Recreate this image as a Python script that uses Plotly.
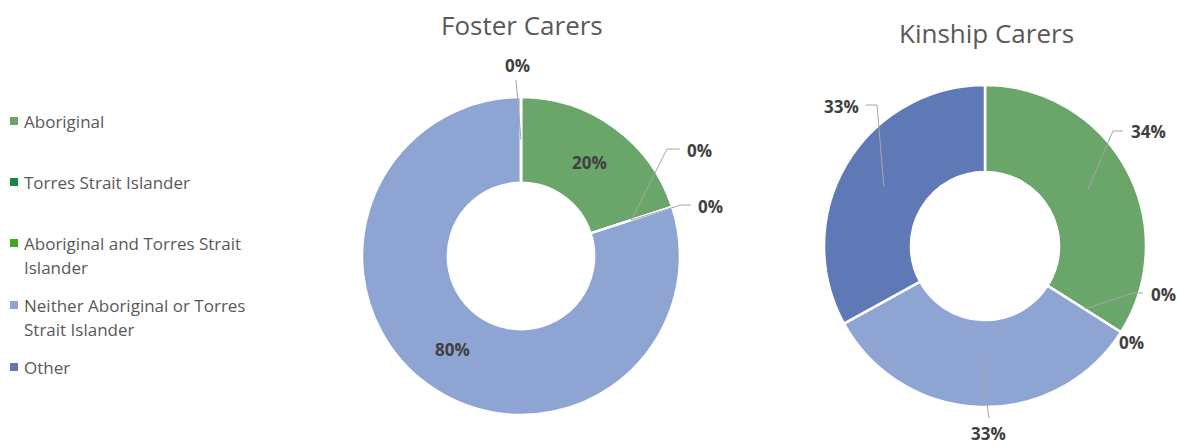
import math
import plotly.graph_objects as go

# ---------------- data ----------------
categories = ["Aboriginal", "Torres Strait Islander",
              "Aboriginal and Torres Strait Islander",
              "Neither Aboriginal or Torres Strait Islander", "Other"]
legend_lines = [["Aboriginal"], ["Torres Strait Islander"],
                ["Aboriginal and Torres Strait", "Islander"],
                ["Neither Aboriginal or Torres", "Strait Islander"], ["Other"]]
foster_pct = [20, 0, 0, 80, 0]
kinship_pct = [34, 0, 0, 33, 33]
chart_titles = ["Foster Carers", "Kinship Carers"]
colors = ["#6AA56A", "#138A44", "#3CAA1E", "#8EA5D4", "#5F79B6"]

# ---------------- layout geometry (pixels) ----------------
W, H = 1177, 446
FONT = "Open Sans"
TXT = "#595959"
LBL = "#404040"
LINE = "#A6A6A6"

pies = [
    dict(values=foster_pct, cx=521, cy=256, R=159, title_y=25,
         labels=[
             dict(kind="inside"),
             dict(kind="leader", end=(146, -107), tail=13, anchor="left", gap=5),
             dict(kind="leader", end=(160, -51), tail=10, anchor="left", gap=5),
             dict(kind="inside"),
             dict(kind="vert", end=(-5, -176), text_off=(-4, -190)),
         ]),
    dict(values=kinship_pct, cx=985, cy=246, R=161, title_y=33,
         labels=[
             dict(kind="leader", end=(128, -115), tail=10, anchor="left", gap=6),
             dict(kind="leader", end=(148, 47), tail=10, anchor="left", gap=6),
             dict(kind="free", text_off=(146, 96)),
             dict(kind="vert", end=(4, 172), text_off=(3, 187)),
             dict(kind="leader", end=(-108, -141), tail=-11, anchor="right", gap=5),
         ]),
]


def px(x, y):
    return x / W, 1 - y / H


def ann(xp, yp, text, font, xanchor="center"):
    x, y = px(xp, yp)
    return dict(x=x, y=y, xref="paper", yref="paper", text=text, showarrow=False,
                xanchor=xanchor, yanchor="middle", font=font)


def seg(x0, y0, x1, y1, color=LINE):
    a0, b0 = px(x0, y0)
    a1, b1 = px(x1, y1)
    return dict(type="line", xref="paper", yref="paper", x0=a0, y0=b0, x1=a1, y1=b1,
                line=dict(color=color, width=1))


fig = go.Figure()
annotations = []
shapes = []

for p in pies:
    cx, cy, R = p["cx"], p["cy"], p["R"]
    fig.add_trace(go.Pie(
        labels=categories, values=p["values"], sort=False, direction="clockwise",
        rotation=0, hole=0.46, textinfo="none", hoverinfo="label+percent",
        marker=dict(colors=colors, line=dict(color="white", width=2.5)),
        domain=dict(x=[(cx - R) / W, (cx + R) / W],
                    y=[1 - (cy + R) / H, 1 - (cy - R) / H]),
        showlegend=False,
    ))
    total = sum(p["values"])
    cum = 0
    rmid = R * (1 + 0.46) / 2
    for i, v in enumerate(p["values"]):
        start = cum / total * 360
        mid = start + v / total * 180
        cum += v
        a = math.radians(mid)
        sx, sy = cx + rmid * math.sin(a), cy - rmid * math.cos(a)
        spec = p["labels"][i]
        text = f"<b>{v}%</b>"
        font = dict(family=FONT, size=17, color=LBL)
        if spec["kind"] == "inside":
            annotations.append(ann(sx, sy, text, font))
        elif spec["kind"] == "leader":
            ex, ey = cx + spec["end"][0], cy + spec["end"][1]
            tx = ex + spec["tail"]
            shapes.append(seg(sx, sy, ex, ey))
            shapes.append(seg(ex, ey, tx, ey))
            off = spec["gap"] if spec["anchor"] == "left" else -spec["gap"]
            annotations.append(ann(tx + off, ey + 1, text, font, spec["anchor"]))
        elif spec["kind"] == "vert":
            ex, ey = cx + spec["end"][0], cy + spec["end"][1]
            shapes.append(seg(sx, sy, ex, ey))
            annotations.append(ann(cx + spec["text_off"][0], cy + spec["text_off"][1], text, font))
        elif spec["kind"] == "free":
            annotations.append(ann(cx + spec["text_off"][0], cy + spec["text_off"][1], text, font))

# titles
for p, t in zip(pies, chart_titles):
    annotations.append(ann(p["cx"] + 1, p["title_y"], t,
                           dict(family=FONT, size=26, color=TXT)))

# legend (manual, Excel-like spacing)
legend_y = [121, 182, 243, 305, 367]
line_gap = 24
for lines, col, ly in zip(legend_lines, colors, legend_y):
    x0, y0 = px(10, ly - 4)
    x1, y1 = px(18, ly + 4)
    shapes.append(dict(type="rect", xref="paper", yref="paper",
                       x0=x0, y0=y0, x1=x1, y1=y1, fillcolor=col, line=dict(width=0)))
    for k, ln in enumerate(lines):
        annotations.append(ann(22, ly + k * line_gap, ln,
                               dict(family=FONT, size=17, color=TXT), "left"))

fig.update_layout(
    width=W, height=H, margin=dict(l=0, r=0, t=0, b=0),
    paper_bgcolor="white", plot_bgcolor="white",
    annotations=annotations, shapes=shapes, showlegend=False,
)

fig.write_html("out.html", config={"displayModeBar": False},
               post_script="document.body.style.margin='0';document.body.style.overflow='hidden';")
